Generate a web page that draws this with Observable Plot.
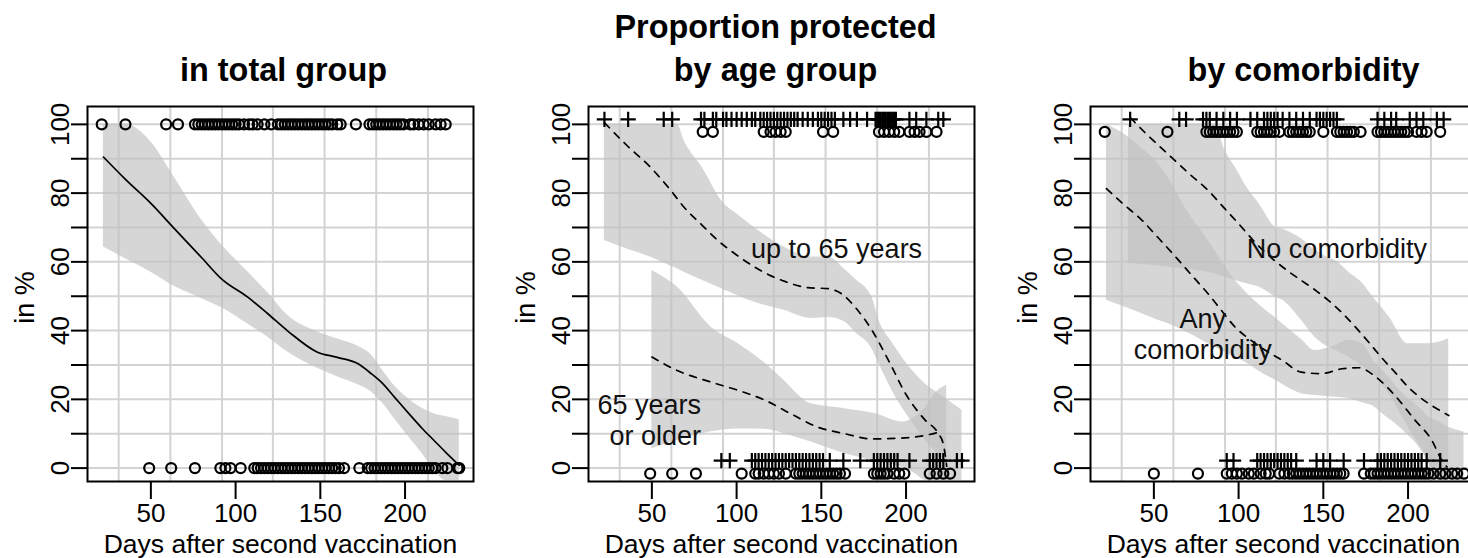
<!DOCTYPE html>
<html>
<head>
<meta charset="utf-8">
<script src="https://cdn.jsdelivr.net/npm/d3@7"></script>
<script src="https://cdn.jsdelivr.net/npm/@observablehq/plot@0.6"></script>
<style>
  html, body { margin: 0; padding: 0; background: #fff; overflow: hidden; }
  #root { position: relative; width: 1468px; height: 558px; overflow: hidden; background: #fff; }
  .panel { position: absolute; top: 0; }
</style>
</head>
<body>
<div id="root"></div>
<script>
// ---------- shared axes ----------
const xDomain = [12.6, 240.4];
const yDomain = [-3.9, 105.2];
const xTicks = [50, 100, 150, 200];
const yTicks = [0, 10, 20, 30, 40, 50, 60, 70, 80, 90, 100];
const yTickLabels = [0, 20, 40, 60, 80, 100];
const gridX = [31, 61.5, 92, 122, 152.5, 183, 213.5];
const gridY = [0, 10, 20, 30, 40, 50, 60, 70, 80, 90, 100];
const xTitle = "Days after second vaccination";
const yTitle = "in %";

// ---------- panel 1: total group ----------
const totalDays = [22, 35, 50, 64, 80, 92, 107, 119, 131, 148, 160, 172, 180, 186, 194, 202, 210, 217, 224, 232];
const totalFit  = [90.5, 84, 77, 69.6, 61.2, 54.9, 49.8, 44.9, 39.8, 33.8, 32.2, 30.4, 27.5, 25, 20.5, 16, 11.6, 8.1, 4.6, 0.8];
const totalHi   = [100, 100, 94.9, 84.5, 72.2, 64.8, 57.2, 51, 44.3, 39.7, 37.6, 35.5, 33, 29, 23.8, 20.2, 17.4, 15.8, 15, 14.1];
const totalLo   = [64.3, 60.9, 57, 52.8, 49.3, 46.6, 42, 38.1, 33.7, 29.1, 26.6, 24.3, 22.2, 19.3, 14.2, 9.2, 4.3, -0.5, -3.6, -3.6];
const totalProtected = [21, 35, 59, 66, 76, 78, 80, 82, 84, 86, 88, 90, 92, 94, 96, 98, 100, 102, 105, 108, 110, 113, 117, 121, 125, 127, 129, 131, 133, 135, 137, 139, 141, 143, 145, 147, 149, 151, 153, 155, 157, 160, 162, 171, 179, 181, 183, 185, 187, 189, 191, 193, 195, 197, 199, 203, 205, 208, 211, 214, 218, 221, 224];
const totalNotProtected = [49, 62, 76, 91, 94, 97, 103, 111, 113, 115, 117, 119, 121, 123, 125, 127, 129, 131, 133, 135, 137, 139, 141, 143, 145, 147, 149, 151, 153, 155, 157, 159, 161, 164, 173, 178, 180, 182, 184, 186, 188, 190, 192, 194, 196, 198, 200, 202, 204, 206, 208, 210, 212, 214, 216, 218, 222, 225, 231, 232];

// ---------- panel 2: age groups ----------
const youngFitDays = [22, 35, 49, 60, 69, 80, 89, 100, 109, 120, 128, 142, 154, 162, 170, 180, 190, 200, 211, 219, 222, 224];
const youngFit     = [100.5, 94, 87.6, 81.5, 75.9, 70.5, 66.2, 62, 59, 56, 54.4, 52.5, 52.2, 50.7, 46.8, 40, 31, 21.4, 14.1, 10.1, 7, 0.5];
const youngBandDays = [22, 35, 49, 60, 65, 69, 80, 92, 100, 112, 128, 144, 154, 164, 170, 180, 184, 192, 202, 212, 219, 224, 233];
const youngHi = [100, 100, 100, 100, 100, 95.3, 87.2, 77.2, 74, 69.4, 64.3, 61.4, 61.4, 57.7, 55, 49.6, 43, 36.4, 29.4, 24.2, 21.8, 20, 16.8];
const youngLo = [66.2, 63.8, 61.4, 59, 58, 57, 54.6, 52, 50.3, 48, 45.9, 43.5, 43.8, 42.5, 39.5, 34.6, 30.4, 22.3, 14.4, 7.7, 3.3, -3.6, -3.6];
const oldFitDays = [50, 65, 85, 101, 117, 132, 148, 164, 180, 196, 211, 220];
const oldFit     = [32.3, 28.4, 25, 22.6, 19.7, 15.8, 11.9, 10, 8.5, 8.7, 9.5, 10.5];
const oldBandDays = [50, 65, 85, 101, 117, 128, 144, 164, 182, 198, 205, 212, 217, 224];
const oldHi = [57.5, 52.7, 41, 36.2, 30.4, 25.5, 18.7, 17.3, 15.8, 13.4, 14.8, 18, 21.6, 24.1];
const oldLo = [5.6, 8.1, 10.6, 11.4, 11.3, 10, 7.6, 4.2, 2, 0.2, -1.5, -3.6, -3.6, -3.6];
const youngProtected = [22, 36, 57, 62, 79, 81, 86, 88, 92, 94, 97, 100, 103, 106, 109, 111, 114, 116, 118, 120, 122, 124, 126, 128, 130, 132, 134, 136, 139, 142, 145, 148, 150, 152, 154, 156, 158, 163, 167, 171, 177, 182, 183, 184, 185, 186, 187, 188, 189, 190, 191, 192, 193, 194, 202, 206, 212, 219, 222];
const oldProtected = [80, 86, 116, 120, 123, 126, 129, 151, 157, 184, 187, 190, 193, 196, 202, 205, 208, 212, 218];
const youngNotProtected = [91, 96, 109, 111, 113, 115, 117, 119, 121, 123, 125, 127, 129, 131, 133, 135, 137, 139, 141, 143, 145, 147, 149, 151, 155, 163, 173, 181, 183, 185, 187, 189, 191, 193, 195, 202, 214, 216, 218, 220, 222, 230, 233];
const oldNotProtected = [49, 62, 76, 103, 111, 113, 116, 119, 122, 125, 129, 135, 137, 139, 141, 143, 145, 147, 149, 151, 153, 155, 157, 159, 161, 164, 181, 183, 185, 187, 189, 193, 196, 199, 214, 218, 222, 226];

// ---------- panel 3: comorbidity ----------
const noComFitDays = [36, 46, 58, 70, 82, 92, 102, 110, 120, 130, 137, 146, 153, 161, 169, 177, 185, 193, 200, 207, 214, 224];
const noComFit     = [102, 97, 91.5, 86, 80.8, 75.4, 70, 65.5, 60.9, 57, 54.6, 51.5, 48.8, 45.2, 41, 36.5, 31.8, 27.5, 23.6, 20.6, 18.2, 15.3];
const noComBandDays = [35, 58, 70, 82, 86, 92, 98, 106, 112, 122, 126, 137, 145, 153, 157, 165, 175, 177, 189, 200, 212, 218, 224];
const noComHi = [100, 100, 100, 100, 100, 92.4, 87.5, 80.8, 77, 70, 69.5, 66.7, 63.5, 61.2, 60.4, 57, 52.7, 51.3, 43.9, 36.2, 36.2, 36.6, 37.6];
const noComLo = [59.5, 58.5, 57.8, 57, 56.5, 55.6, 54.6, 53.5, 52.7, 49.7, 48.8, 43, 38.1, 35.2, 34.2, 32.3, 29, 28.4, 21.5, 11.9, 2.5, -3.6, -3.6];
const anyComFitDays = [22, 32, 43, 52, 62, 72, 82, 90, 98, 107, 116, 126, 137, 149, 161, 171, 181, 193, 204, 214, 220, 223];
const anyComFit     = [81.3, 76.8, 72.1, 67.3, 61.9, 56.3, 50.7, 45.8, 41, 37.3, 34.2, 31.3, 27.9, 27.5, 28.9, 29.2, 26.5, 20.7, 14, 8.1, 2.2, 0.3];
const anyComBandDays = [22, 35, 43, 51, 62, 66, 82, 98, 102, 116, 122, 133, 137, 145, 155, 165, 173, 181, 183, 197, 209, 212, 216, 224, 233];
const anyComHi = [100, 96.3, 93, 89.5, 81.5, 77.8, 66.2, 54.6, 52.4, 45.9, 43.6, 39.1, 37.5, 34.2, 35.2, 37.2, 36.2, 30.2, 29.4, 21.6, 16.5, 14.8, 14, 11.9, 10.5];
const anyComLo = [48.8, 46.4, 44.9, 43.3, 41.3, 40.4, 36.2, 32.2, 31.3, 27, 25.5, 22.4, 21.6, 21.1, 20.7, 20.2, 19, 17.5, 16.6, 11, 4.2, 1.4, -3.6, -3.6, -3.6];
const noComProtected = [36, 65, 69, 79, 81, 83, 87, 91, 95, 99, 107, 111, 115, 117, 119, 121, 123, 126, 130, 134, 138, 142, 146, 148, 150, 152, 154, 156, 158, 182, 186, 190, 193, 201, 205, 209, 217, 221];
const anyComProtected = [21, 58, 81, 83, 85, 87, 89, 91, 93, 95, 97, 99, 111, 113, 115, 117, 119, 121, 124, 130, 132, 134, 136, 138, 140, 142, 150, 158, 160, 162, 164, 166, 168, 172, 182, 184, 186, 188, 190, 192, 194, 196, 198, 200, 205, 208, 211, 219];
const noComNotProtected = [93, 97, 111, 113, 115, 117, 119, 121, 123, 125, 127, 129, 131, 134, 146, 150, 154, 162, 174, 182, 184, 186, 188, 190, 192, 194, 196, 198, 200, 202, 204, 206, 208, 211, 219];
const anyComNotProtected = [50, 76, 93, 96, 99, 102, 106, 109, 113, 116, 118, 124, 127, 130, 132, 134, 136, 138, 140, 142, 144, 146, 148, 150, 152, 154, 156, 158, 160, 162, 174, 178, 180, 182, 184, 186, 188, 190, 192, 194, 196, 198, 200, 202, 204, 206, 208, 210, 212, 215, 219, 222, 226, 229, 233];

// ---------- titles and annotations ----------
const titles = ["in total group", "Proportion protected\nby age group", "by comorbidity"];
const annotations = [
  [],
  [
    {day: 159, value: 63.9, text: "up to 65 years", anchor: "middle"},
    {day: 79, value: 14.2, text: "65 years\nor older", anchor: "end"}
  ],
  [
    {day: 158, value: 64.1, text: "No comorbidity", anchor: "middle"},
    {day: 78.8, value: 39.2, text: "Any\ncomorbidity", anchor: "middle"}
  ]
];

// ---------- helpers ----------
const FONT = '"Liberation Sans", Arial, Helvetica, sans-serif';
const zipBand = (xs, lo, hi) => xs.map((x, i) => ({x, lo: lo[i], hi: hi[i]}));
const zipLine = (xs, ys) => xs.map((x, i) => ({x, y: ys[i]}));

function panel(cfg) {
  const marks = [
    Plot.ruleY(gridY, {stroke: "#d3d3d3", strokeWidth: 2}),
    Plot.ruleX(gridX, {stroke: "#d3d3d3", strokeWidth: 2}),
    ...cfg.bands.map(b => Plot.areaY(b, {x: "x", y1: "lo", y2: "hi", fill: "#c1c1c1", fillOpacity: 0.66, curve: "monotone-x", clip: true})),
    ...cfg.lines.map(l => Plot.lineY(l.data, {x: "x", y: "y", stroke: "black", strokeWidth: 1.7, strokeDasharray: l.dash, curve: "monotone-x", clip: true})),
    ...cfg.dots.map(d => Plot.dot(d.days, {
      x: v => v, y: () => d.value, dy: d.dy,
      symbol: d.symbol, r: 5,
      stroke: "black", strokeWidth: 2.2, fill: "none"
    })),
    ...cfg.labels.map(a => Plot.text([a], {
      x: "day", y: "value", text: "text", textAnchor: a.anchor, lineAnchor: "middle",
      lineHeight: 1.15, fontSize: 27, fill: "#111"
    })),
    Plot.frame({stroke: "black", strokeWidth: 2}),
    Plot.axisX({ticks: xTicks, tickSize: 18, tickPadding: 4, strokeWidth: 2, fontSize: 26, label: null, fill: "black"}),
    Plot.axisY({ticks: yTicks, tickSize: 16, tickFormat: () => "", strokeWidth: 2, label: null}),
    Plot.text(yTickLabels, {x: () => xDomain[0], y: d => d, text: d => String(d), rotate: -90, dx: -19, textAnchor: "middle", lineAnchor: "bottom", fontSize: 26}),
    Plot.text([yTitle], {text: d => d, frameAnchor: "left", dx: -54, dy: 3.5, rotate: -90, textAnchor: "middle", lineAnchor: "bottom", fontSize: 27}),
    Plot.text([xTitle], {text: d => d, frameAnchor: "bottom", dy: 71, textAnchor: "middle", lineAnchor: "bottom", fontSize: 26.5}),
    Plot.text([cfg.title], {text: d => d, frameAnchor: "top", dx: cfg.titleDx, dy: -26, textAnchor: "middle", lineAnchor: "bottom", fontSize: 32.4, fontWeight: "bold", lineHeight: 1.3})
  ];
  return Plot.plot({
    width: 490, height: 558,
    marginLeft: 87, marginRight: 17, marginTop: 106, marginBottom: 77,
    x: {domain: xDomain},
    y: {domain: yDomain},
    style: {fontFamily: FONT, fontSize: "27px", background: "transparent", overflow: "visible", color: "black"},
    marks
  });
}

const panels = [
  {
    left: 0, title: titles[0], titleDx: 3,
    bands: [zipBand(totalDays, totalLo, totalHi)],
    lines: [{data: zipLine(totalDays, totalFit), dash: null}],
    dots: [
      {days: totalProtected, value: 100, dy: 0, symbol: "circle"},
      {days: totalNotProtected, value: 0, dy: 0, symbol: "circle"}
    ],
    labels: annotations[0]
  },
  {
    left: 501, title: titles[1], titleDx: -6,
    bands: [zipBand(youngBandDays, youngLo, youngHi), zipBand(oldBandDays, oldLo, oldHi)],
    lines: [{data: zipLine(youngFitDays, youngFit), dash: "7,7"}, {data: zipLine(oldFitDays, oldFit), dash: "7,7"}],
    dots: [
      {days: youngProtected, value: 100, dy: -5, symbol: "plus"},
      {days: oldProtected, value: 100, dy: 7.5, symbol: "circle"},
      {days: youngNotProtected, value: 0, dy: -7.5, symbol: "plus"},
      {days: oldNotProtected, value: 0, dy: 5.5, symbol: "circle"}
    ],
    labels: annotations[1]
  },
  {
    left: 1003, title: titles[2], titleDx: 20,
    bands: [zipBand(noComBandDays, noComLo, noComHi), zipBand(anyComBandDays, anyComLo, anyComHi)],
    lines: [{data: zipLine(noComFitDays, noComFit), dash: "7,7"}, {data: zipLine(anyComFitDays, anyComFit), dash: "7,7"}],
    dots: [
      {days: noComProtected, value: 100, dy: -5, symbol: "plus"},
      {days: anyComProtected, value: 100, dy: 7.5, symbol: "circle"},
      {days: noComNotProtected, value: 0, dy: -7.5, symbol: "plus"},
      {days: anyComNotProtected, value: 0, dy: 5.5, symbol: "circle"}
    ],
    labels: annotations[2]
  }
];

const root = document.getElementById("root");
for (const p of panels) {
  const svg = panel(p);
  svg.classList.add("panel");
  svg.style.left = p.left + "px";
  root.appendChild(svg);
}
</script>
</body>
</html>
